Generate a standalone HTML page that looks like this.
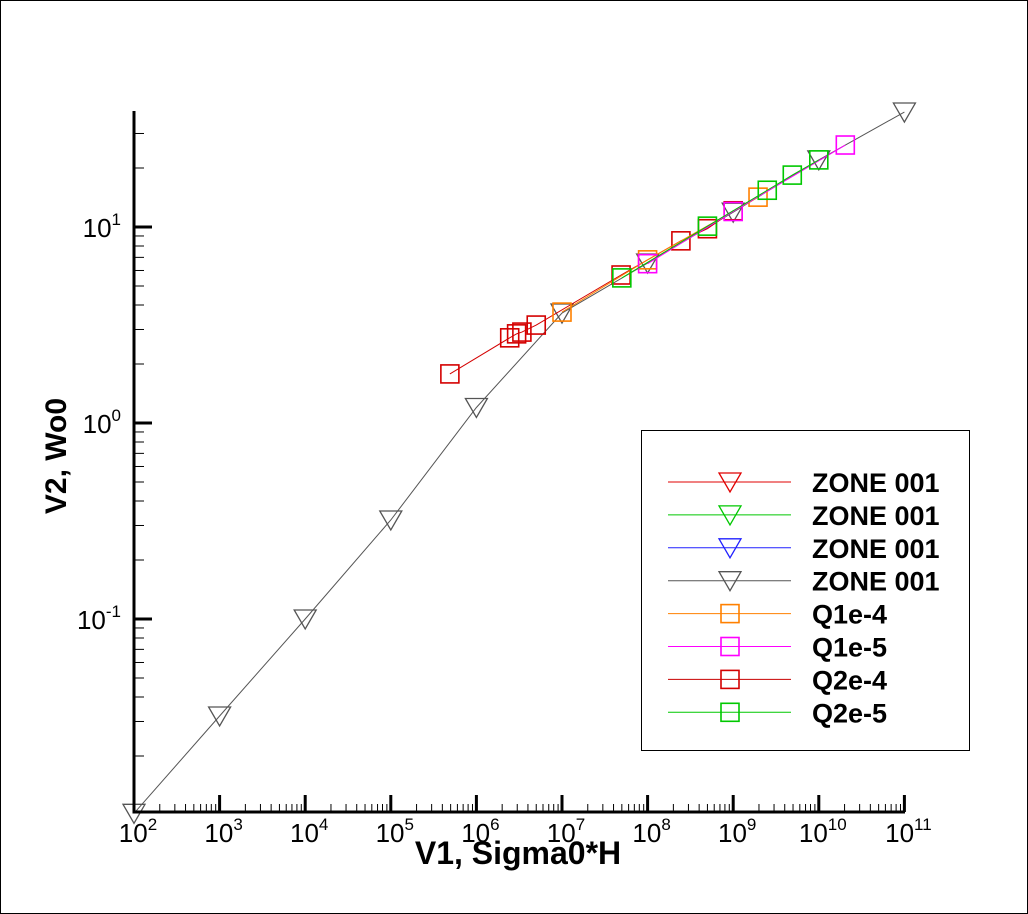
<!DOCTYPE html>
<html><head><meta charset="utf-8"><style>
html,body{margin:0;padding:0;background:#fff}
svg{display:block;font-family:"Liberation Sans",sans-serif}
</style></head><body>
<svg id="chart" width="1028" height="914" viewBox="0 0 1028 914">
<rect x="0.5" y="0.5" width="1027" height="913" fill="#fff" stroke="#000" stroke-width="1"/>
<g id="marks"></g>
<g id="axes"></g>
<g id="legend"></g>
<text x="518" y="864" style="font-size:32px;font-weight:bold" text-anchor="middle">V1, Sigma0*H</text>
<text transform="translate(66,456) rotate(-90)" style="font-size:30px;font-weight:bold" text-anchor="middle">V2, Wo0</text>
</svg>
<script>
const zoneX = [1e2,1e3,1e4,1e5,1e6,1e7,1e8,1e9,1e10,1e11];
const zoneY = [0.0102,0.032,0.1,0.32,1.2,3.64,6.55,11.9,22,38.6];
const q1e4X = [1e7,1e8,1.95e9];
const q1e4Y = [3.68,6.8,14.2];
const q1e5X = [1e8,1e9,2.04e10];
const q1e5Y = [6.5,12,26.2];
const q2e4X = [4.9e5,2.45e6,2.95e6,3.4e6,5e6,4.9e7,2.45e8,5e8,1e9];
const q2e4Y = [1.78,2.72,2.85,2.91,3.16,5.69,8.5,9.8,12.1];
const q2e5X = [5e7,5e8,2.5e9,4.9e9,1e10];
const q2e5Y = [5.5,10.1,15.4,18.4,22];
const xTickExp = [2,3,4,5,6,7,8,9,10,11];
const yTickExp = [-1,0,1];
const legendLabels = ["ZONE 001","ZONE 001","ZONE 001","ZONE 001","Q1e-4","Q1e-5","Q2e-4","Q2e-5"];

const NS="http://www.w3.org/2000/svg";
const X0=134, XD=85.6, Y0=423, YD=196;
const xs=v=>X0+(Math.log10(v)-2)*XD;
const ys=v=>Y0-Math.log10(v)*YD;
const yBottom=812, yTop=111, xRight=905;
function mk(tag,attrs,parent){const e=document.createElementNS(NS,tag);for(const k in attrs)e.setAttribute(k,attrs[k]);parent.appendChild(e);return e;}
const marks=document.getElementById('marks');
const axes=document.getElementById('axes');
const legend=document.getElementById('legend');
function tri(cx,cy,col,p){return mk('polygon',{points:`${cx-11},${cy-9} ${cx+11},${cy-9} ${cx},${cy+10}`,fill:'none',stroke:col,'stroke-width':1.3},p);}
function sq(cx,cy,col,p){return mk('rect',{x:cx-9,y:cy-9,width:18,height:18,fill:'none',stroke:col,'stroke-width':1.6},p);}
function series(X,Y,col,kind,name){
  const g=mk('g',{},marks);
  
  
  const l=mk('polyline',{points:X.map((x,i)=>xs(x)+','+ys(Y[i])).join(' '),fill:'none',stroke:col,'stroke-width':1},g);
  
  
  X.forEach((x,i)=>{const m=kind==='t'?tri(xs(x),ys(Y[i]),col,g):sq(xs(x),ys(Y[i]),col,g);
    
    });
}
series(zoneX,zoneY,'#555','t','zone-001-series');
series(q2e4X,q2e4Y,'#d40000','s','q2e-4-series');
series(q1e4X,q1e4Y,'#ff8000','s','q1e-4-series');
series(q1e5X,q1e5Y,'#ff00ff','s','q1e-5-series');
series(q2e5X,q2e5Y,'#00c800','s','q2e-5-series');

let a=mk('line',{x1:X0,y1:yTop,x2:X0,y2:yBottom+1.5,stroke:'#000','stroke-width':3},axes);

a=mk('line',{x1:X0-1.5,y1:yBottom,x2:xRight,y2:yBottom,stroke:'#000','stroke-width':3},axes);

for(let e=2;e<=11;e++){for(let m=1;m<=9;m++){const v=m*Math.pow(10,e);if(e==11&&m>1)break;const x=xs(v);
  if(m==1){if(e==2)continue;mk('line',{x1:x,y1:yBottom,x2:x,y2:yBottom-17,stroke:'#000','stroke-width':3},axes);}
  else mk('line',{x1:x,y1:yBottom,x2:x,y2:yBottom-8,stroke:'#000','stroke-width':1},axes);}}
for(let e=-2;e<=1;e++){for(let m=1;m<=9;m++){const v=m*Math.pow(10,e);const y=ys(v);if(y>yBottom-1||y<yTop)continue;
  if(m==1)mk('line',{x1:X0,y1:y,x2:X0+18,y2:y,stroke:'#000','stroke-width':3},axes);
  else mk('line',{x1:X0,y1:y,x2:X0+10,y2:y,stroke:'#000','stroke-width':1},axes);}}
function tickLabel(x,y,anchor,e){
  const t=mk('text',{x:x,y:y,'text-anchor':anchor,style:'font-size:26px'},axes);
  
  
  t.appendChild(document.createTextNode('10'));
  const s=mk('tspan',{dy:-12,style:'font-size:17px'},t);
  s.textContent=e;
}
xTickExp.forEach(e=>tickLabel(xs(Math.pow(10,e))+4,842,'middle',e));
yTickExp.forEach(e=>tickLabel(121,ys(Math.pow(10,e))+10,'end',e));

const lb=mk('rect',{x:641.5,y:430.5,width:328,height:320,fill:'#fff',stroke:'#000','stroke-width':1},legend);

const lcols=['#e00000','#00c800','#2020ff','#555','#ff8000','#ff00ff','#c80000','#00c800'];
const mcols=['#e00000','#00c800','#2020ff','#555','#ff8000','#ff00ff','#d40000','#00c800'];
legendLabels.forEach((lab,i)=>{const y=482+i*32.9;const g=mk('g',{},legend);
  
  mk('line',{x1:668,y1:y,x2:791,y2:y,stroke:lcols[i],'stroke-width':1},g);
  if(i<4)tri(730,y,mcols[i],g);else sq(730,y,mcols[i],g);
  const t=mk('text',{x:812,y:y+10,style:'font-size:27px;font-weight:bold'},g);t.textContent=lab;});
</script>
</body></html>
